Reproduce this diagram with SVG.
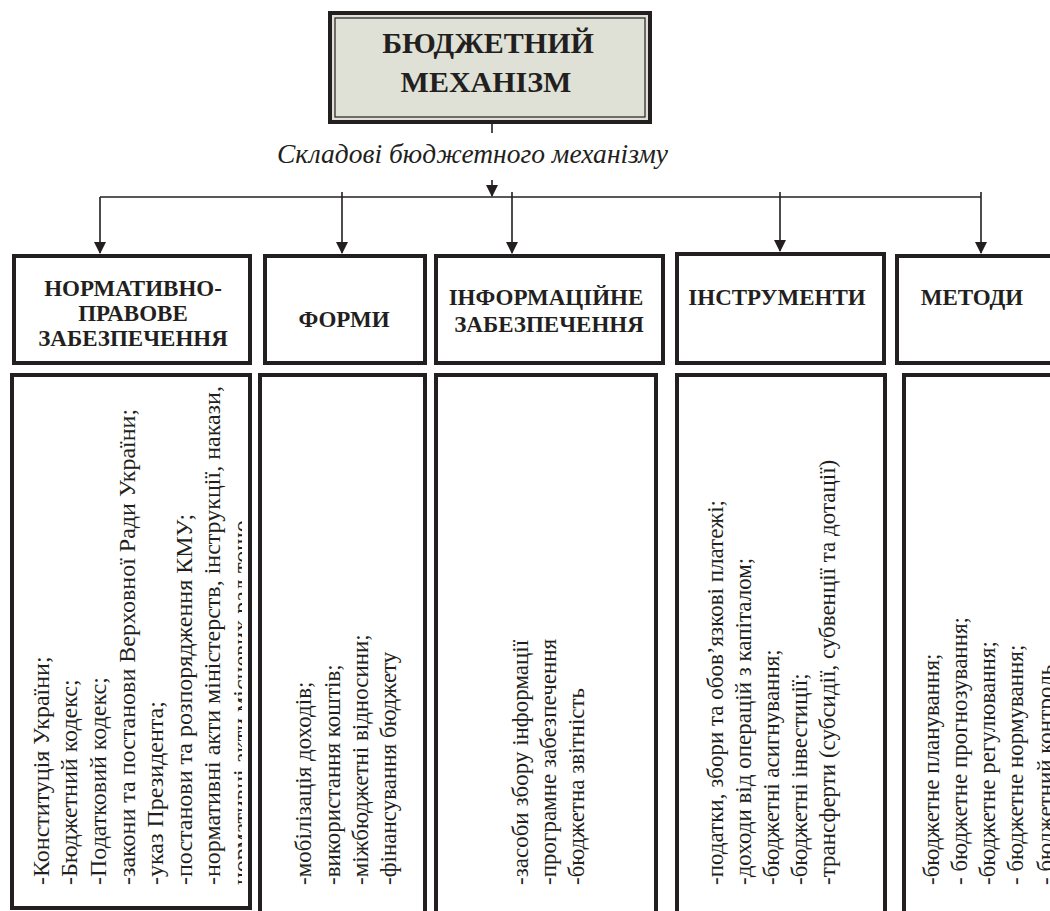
<svg xmlns="http://www.w3.org/2000/svg" width="1050" height="911" viewBox="0 0 1050 911">
<style>
.title{font-family:"Liberation Serif","Times New Roman",serif;font-weight:bold;font-size:30px;fill:#231f20;text-anchor:middle}
.sub{font-family:"Liberation Serif","Times New Roman",serif;font-style:italic;font-size:27px;fill:#231f20}
.hd{font-family:"Liberation Serif","Times New Roman",serif;font-weight:bold;font-size:23px;fill:#231f20;text-anchor:middle}
.it{font-family:"Liberation Serif","Times New Roman",serif;font-size:23px;fill:#231f20}
.it1{font-family:"Liberation Serif","Times New Roman",serif;font-size:24px;fill:#231f20}
.box{fill:#fff;stroke:#231f20;stroke-width:4}
.ln{stroke:#231f20;stroke-width:1.6;fill:none}
</style>
<defs>
<marker id="arr" viewBox="0 0 12 12" refX="11" refY="6" markerWidth="12" markerHeight="12" markerUnits="userSpaceOnUse" orient="auto">
<path d="M0,0 L12,6 L0,12 Z" fill="#231f20"/>
</marker>
<clipPath id="c1"><rect x="14" y="377" width="228" height="540"/></clipPath>
</defs>
<rect x="0" y="0" width="1050" height="911" fill="#fff"/>

<g id="top">
<rect x="330" y="13" width="320" height="109" fill="#dfe0d6" stroke="#231f20" stroke-width="4"/>
<rect x="335" y="18" width="310" height="99" fill="none" stroke="#231f20" stroke-width="1.2"/>
<text class="title" x="488" y="53">БЮДЖЕТНИЙ</text>
<text class="title" x="486" y="92">МЕХАНІЗМ</text>
</g>

<g id="caption">
<text class="sub" x="277" y="163" textLength="391" lengthAdjust="spacingAndGlyphs">Складові бюджетного механізму</text>
</g>

<g id="connectors">
<line class="ln" x1="492" y1="124" x2="492" y2="133"/>
<line class="ln" x1="492" y1="180" x2="492" y2="196" marker-end="url(#arr)"/>
<line class="ln" x1="100" y1="197" x2="981" y2="197"/>
<line class="ln" x1="100" y1="197" x2="100" y2="253" marker-end="url(#arr)"/>
<line class="ln" x1="342" y1="192" x2="342" y2="253" marker-end="url(#arr)"/>
<line class="ln" x1="512" y1="192" x2="512" y2="253" marker-end="url(#arr)"/>
<line class="ln" x1="780" y1="192" x2="780" y2="251" marker-end="url(#arr)"/>
<line class="ln" x1="981" y1="192" x2="981" y2="253" marker-end="url(#arr)"/>
</g>

<g id="h1">
<rect class="box" x="14" y="256" width="236" height="107"/>
<text class="hd" x="133" y="296">НОРМАТИВНО-</text>
<text class="hd" x="133" y="321">ПРАВОВЕ</text>
<text class="hd" x="133" y="346">ЗАБЕЗПЕЧЕННЯ</text>
</g>
<g id="h2">
<rect class="box" x="265" y="256" width="160" height="107"/>
<text class="hd" x="344" y="327">ФОРМИ</text>
</g>
<g id="h3">
<rect class="box" x="436" y="256" width="227" height="107"/>
<text class="hd" x="546" y="305">ІНФОРМАЦІЙНЕ</text>
<text class="hd" x="549" y="332">ЗАБЕЗПЕЧЕННЯ</text>
</g>
<g id="h4">
<rect class="box" x="677" y="254" width="207" height="109"/>
<text class="hd" x="777" y="305">ІНСТРУМЕНТИ</text>
</g>
<g id="h5">
<rect class="box" x="897" y="256" width="170" height="107"/>
<text class="hd" x="972" y="305">МЕТОДИ</text>
</g>

<g id="b1">
<rect class="box" x="12" y="375" width="238" height="533"/>
<g clip-path="url(#c1)">
<text class="it1" transform="translate(49,885) rotate(-90)">-Конституція  України;</text>
<text class="it1" transform="translate(77,885) rotate(-90)">-Бюджетний кодекс;</text>
<text class="it1" transform="translate(106,885) rotate(-90)">-Податковий кодекс;</text>
<text class="it1" transform="translate(134.5,885) rotate(-90)">-закони та постанови Верховної Ради України;</text>
<text class="it1" transform="translate(163,885) rotate(-90)">-указ Президента;</text>
<text class="it1" transform="translate(191.5,885) rotate(-90)">-постанови та розпорядження КМУ;</text>
<text class="it1" transform="translate(220,885) rotate(-90)">-нормативні акти міністерств, інструкції, накази,</text>
<text class="it1" transform="translate(248.5,885) rotate(-90)">нормативні акти місцевих рад тощо</text>
</g>
</g>
<g id="b2">
<rect class="box" x="260" y="375" width="165" height="545"/>
<text class="it" transform="translate(311,885) rotate(-90)">-мобілізація доходів;</text>
<text class="it" transform="translate(339.5,885) rotate(-90)">-використання коштів;</text>
<text class="it" transform="translate(368,885) rotate(-90)">-міжбюджетні відносини;</text>
<text class="it" transform="translate(396,885) rotate(-90)">-фінансування бюджету</text>
</g>
<g id="b3">
<rect class="box" x="436" y="375" width="220" height="545"/>
<text class="it" transform="translate(528,885) rotate(-90)">-засоби збору інформації</text>
<text class="it" transform="translate(556,885) rotate(-90)">-програмне забезпечення</text>
<text class="it" transform="translate(584,885) rotate(-90)">-бюджетна звітність</text>
</g>
<g id="b4">
<rect class="box" x="677" y="375" width="208" height="545"/>
<text class="it" transform="translate(723,885) rotate(-90)">-податки, збори та обов’язкові платежі;</text>
<text class="it" transform="translate(751,885) rotate(-90)">-доходи від операцій з капіталом;</text>
<text class="it" transform="translate(779,885) rotate(-90)">-бюджетні асигнування;</text>
<text class="it" transform="translate(807,885) rotate(-90)">-бюджетні інвестиції;</text>
<text class="it" transform="translate(835,885) rotate(-90)">-трансферти (субсидії, субвенції та дотації)</text>
</g>
<g id="b5">
<rect class="box" x="904" y="375" width="170" height="545"/>
<text class="it" transform="translate(939,885) rotate(-90)">-бюджетне планування;</text>
<text class="it" transform="translate(967,885) rotate(-90)">- бюджетне прогнозування;</text>
<text class="it" transform="translate(995,885) rotate(-90)">-бюджетне регулювання;</text>
<text class="it" transform="translate(1023,885) rotate(-90)">- бюджетне нормування;</text>
<text class="it" transform="translate(1053,885) rotate(-90)">- бюджетний контроль</text>
</g>
</svg>
